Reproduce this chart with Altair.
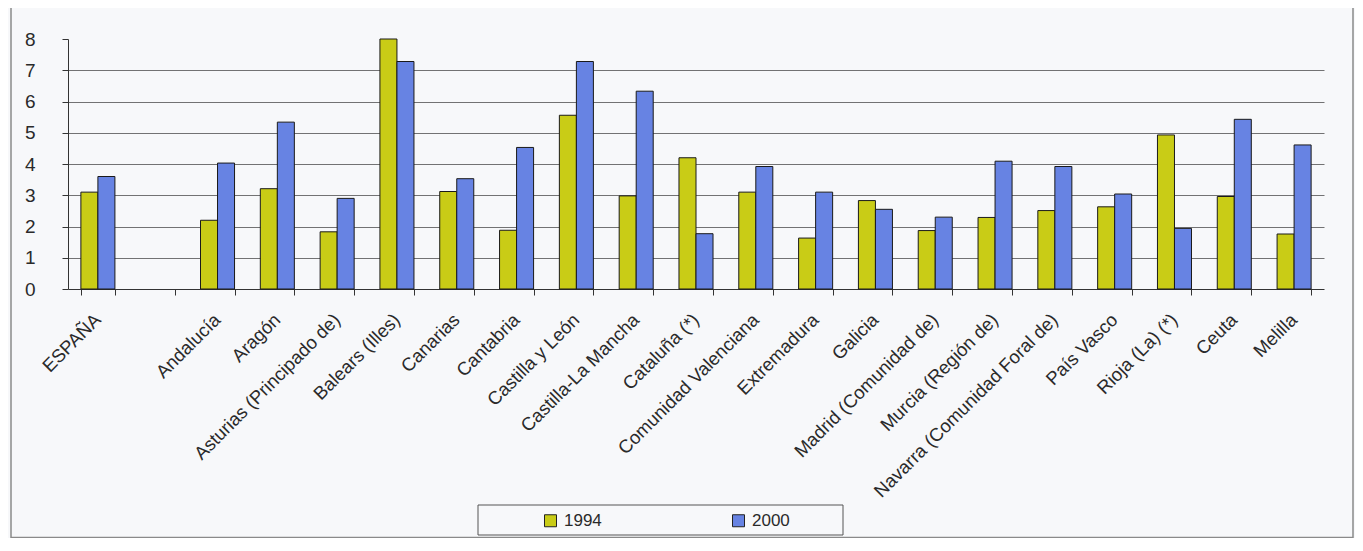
import altair as alt
import pandas as pd

# Categories (the blank entry reproduces the empty slot after ESPAÑA)
categories = ["ESPAÑA", " ", "Andalucía", "Aragón", "Asturias (Principado de)",
              "Balears (Illes)", "Canarias", "Cantabria", "Castilla y León",
              "Castilla-La Mancha", "Cataluña (*)", "Comunidad Valenciana",
              "Extremadura", "Galicia", "Madrid (Comunidad de)", "Murcia (Región de)",
              "Navarra (Comunidad Foral de)", "País Vasco", "Rioja (La) (*)",
              "Ceuta", "Melilla"]

regions = [c for c in categories if c.strip()]
values_1994 = [3.10, 2.20, 3.21, 1.83, 8.00, 3.12, 1.88, 5.56, 2.98, 4.20, 3.10,
               1.63, 2.83, 1.87, 2.29, 2.51, 2.63, 4.93, 2.96, 1.76]
values_2000 = [3.60, 4.03, 5.34, 2.90, 7.28, 3.53, 4.53, 7.28, 6.33, 1.77, 3.92,
               3.10, 2.55, 2.30, 4.09, 3.92, 3.04, 1.94, 5.43, 4.61]
years = ["1994", "2000"]
colors = ["#C9CC16", "#6783E3"]
y_ticks = [0, 1, 2, 3, 4, 5, 6, 7, 8]

rows = []
for r, a, b in zip(regions, values_1994, values_2000):
    rows.append({"region": r, "year": years[0], "value": a})
    rows.append({"region": r, "year": years[1], "value": b})
df = pd.DataFrame(rows)

FONT = "Liberation Sans"
W, H = 1256, 250

bars = alt.Chart(df).mark_bar(stroke="#1a1a1a", strokeWidth=1).encode(
    x=alt.X("region:N",
            scale=alt.Scale(domain=categories, paddingInner=0.431, paddingOuter=0.2155),
            axis=alt.Axis(title=None, labelAngle=-45, tickBand="extent",
                          labelFontSize=18.5, labelFont=FONT, labelColor="#2a2a2a",
                          labelPadding=15, labelOffset=-7, tickSize=6,
                          tickColor="#333", domainColor="#333", labelLimit=400,
                          grid=False)),
    xOffset=alt.XOffset("year:N", scale=alt.Scale(domain=years, paddingInner=0, paddingOuter=0)),
    y=alt.Y("value:Q",
            scale=alt.Scale(domain=[0, 8], nice=False),
            axis=alt.Axis(title=None, values=y_ticks, labelFontSize=19, labelFont=FONT,
                          labelColor="#2a2a2a", labelPadding=27, tickSize=6,
                          tickColor="#333", domainColor="#333",
                          gridColor="#5a5a5a", gridWidth=1,
                          gridOpacity={"condition": {"test": "datum.value == 8 || datum.value == 0", "value": 0}, "value": 0.85})),
    color=alt.Color("year:N",
                    scale=alt.Scale(domain=years, range=colors),
                    legend=alt.Legend(orient="none", legendX=474, legendY=473,
                                      direction="horizontal", title=None,
                                      symbolType="square", symbolSize=144,
                                      symbolStrokeColor="#222", symbolStrokeWidth=1,
                                      labelFontSize=17, labelFont=FONT, labelColor="#2a2a2a",
                                      columnPadding=128, labelOffset=5, padding=0)),
)

deco = pd.DataFrame({"k": [0]})
frame = alt.Chart(deco).mark_rect(filled=False, stroke="#8a8a8a", strokeWidth=1.5).encode(
    x=alt.value(-57), x2=alt.value(1285), y=alt.value(-34), y2=alt.value(498.5))
legend_box = alt.Chart(deco).mark_rect(filled=False, stroke="#555", strokeWidth=1).encode(
    x=alt.value(410), x2=alt.value(775), y=alt.value(466), y2=alt.value(496))

chart = alt.layer(frame, legend_box, bars).properties(
    width=W, height=H,
    padding={"left": 60, "top": 31, "right": 31, "bottom": 249},
    autosize=alt.AutoSizeParams(type="none"),
).configure(background="#f7f8fa").configure_view(stroke=None)

chart.save("out.html", embed_options={"renderer": "svg", "actions": False})
